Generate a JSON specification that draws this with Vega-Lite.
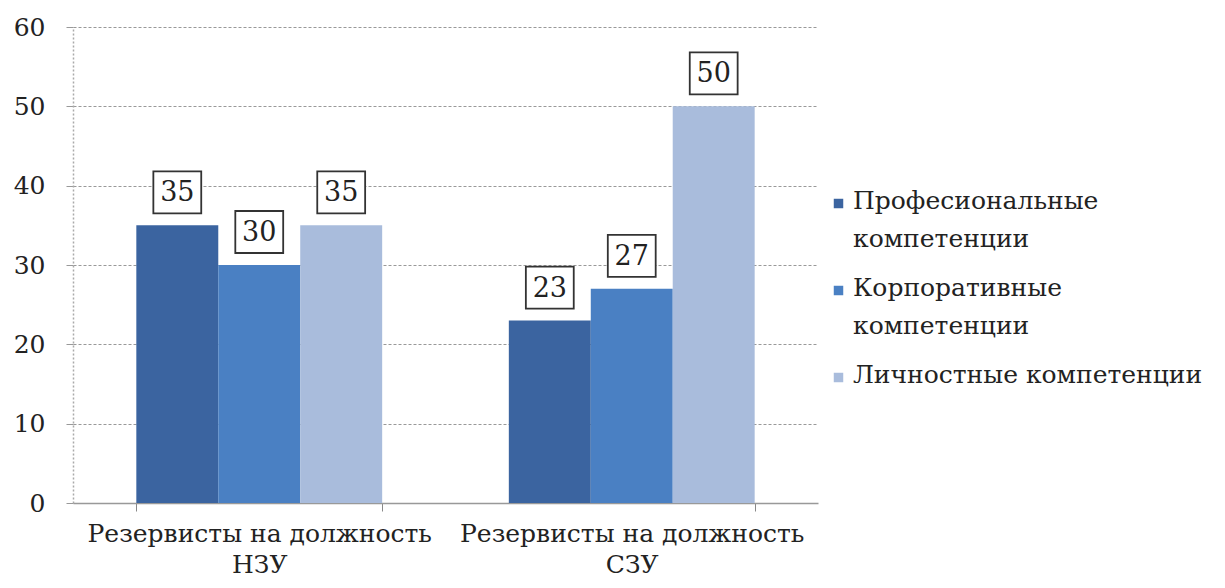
{
  "$schema": "https://vega.github.io/schema/vega-lite/v6.json",
  "autosize": "none",
  "width": 745,
  "height": 476,
  "padding": {"left": 73, "top": 27, "right": 407, "bottom": 85},
  "background": "white",
  "config": {
    "font": "DejaVu Serif",
    "view": {"stroke": null},
    "axis": {"labelFont": "DejaVu Serif", "labelColor": "#222", "labelFontSize": 25},
    "legend": {"labelFont": "DejaVu Serif", "labelColor": "#222", "labelFontSize": 25}
  },
  "data": {
    "values": [
      {"group": "Резервисты на должность\nНЗУ", "type": "Професиональные компетенции", "value": 35},
      {"group": "Резервисты на должность\nНЗУ", "type": "Корпоративные компетенции", "value": 30},
      {"group": "Резервисты на должность\nНЗУ", "type": "Личностные компетенции", "value": 35},
      {"group": "Резервисты на должность\nСЗУ", "type": "Професиональные компетенции", "value": 23},
      {"group": "Резервисты на должность\nСЗУ", "type": "Корпоративные компетенции", "value": 27},
      {"group": "Резервисты на должность\nСЗУ", "type": "Личностные компетенции", "value": 50}
    ]
  },
  "encoding": {
    "x": {
      "field": "group", "type": "nominal", "sort": null, "title": null,
      "scale": {"paddingInner": 0.34, "paddingOuter": 0.17},
      "axis": {
        "labelAngle": 0, "labelExpr": "split(datum.label, '\\n')", "labelLineHeight": 31,
        "labelBaseline": "top", "labelPadding": 10, "tickBand": "extent", "tickSize": 8,
        "tickColor": "#888", "domainColor": "#999", "domainWidth": 1.5, "labelLimit": 400
      }
    },
    "xOffset": {"field": "type", "type": "nominal", "sort": null, "scale": {"paddingInner": 0, "paddingOuter": 0}},
    "y": {
      "field": "value", "type": "quantitative", "title": null,
      "scale": {"domain": [0, 60], "nice": false},
      "axis": {
        "values": [0, 10, 20, 30, 40, 50, 60], "grid": true, "gridColor": "#999", "gridDash": [3, 2],
        "gridWidth": 1.2, "domainColor": "#aaa", "domainDash": [2, 2], "domainWidth": 1.5,
        "tickColor": "#999", "tickSize": 7, "labelPadding": 21
      }
    }
  },
  "layer": [
    {
      "mark": {"type": "bar"},
      "encoding": {
        "color": {
          "field": "type", "type": "nominal", "title": null,
          "scale": {
            "domain": ["Професиональные компетенции", "Корпоративные компетенции", "Личностные компетенции"],
            "range": ["#3B64A0", "#4A80C3", "#A9BCDC"]
          },
          "legend": {
            "orient": "none", "legendX": 753, "legendY": 164,
            "symbolType": "square", "symbolSize": 90, "symbolStrokeWidth": 0,
            "labelExpr": "datum.label == 'Личностные компетенции' ? datum.label : split(datum.label, ' ')",
            "labelLimit": 500, "labelOffset": 2, "rowPadding": 23, "labelBaseline": "top",
            "encode": {"labels": {"update": {"dy": {"value": -15}, "lineHeight": {"value": 38}}}}
          }
        }
      }
    },
    {
      "mark": {"type": "point", "shape": "M-1.14,-1H1.14V1H-1.14Z", "size": 1764, "filled": false, "fill": "white", "fillOpacity": 1, "stroke": "#333", "strokeWidth": 1.8, "opacity": 1, "yOffset": -33}
    },
    {
      "mark": {"type": "text", "fontSize": 27, "font": "DejaVu Serif", "color": "#222", "baseline": "middle", "yOffset": -32},
      "encoding": {"text": {"field": "value", "type": "quantitative"}}
    }
  ]
}
